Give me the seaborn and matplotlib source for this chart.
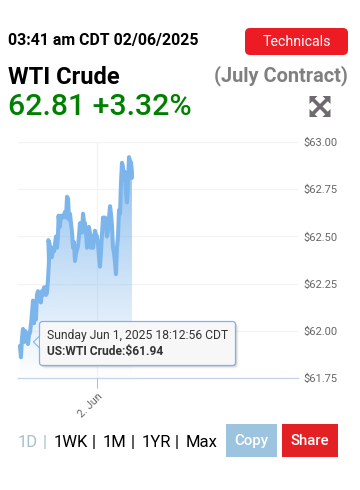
import numpy as np
import pandas as pd
import matplotlib
matplotlib.use("Agg")
import matplotlib.pyplot as plt
from matplotlib.patches import FancyBboxPatch, Rectangle, Polygon
import seaborn as sns

hours = [-6.02,-5.94,-5.86,-5.78,-5.70,-5.63,-5.55,-5.47,-5.39,-5.31,-5.23,-5.12,-5.00,-4.92,-4.84,-4.77,-4.69,-4.61,-4.50,-4.38,-4.30,-4.22,-4.14,-4.06,-3.98,-3.91,-3.83,-3.75,-3.80,-3.70,-3.60,-3.52,-3.44,-3.36,-3.28,-3.20,-3.12,-3.05,-3.00,-2.92,-2.81,-2.66,-2.50,-2.42,-2.34,-2.26,-2.19,-2.11,-2.03,-1.95,-1.87,-1.80,-1.72,-1.64,-1.56,-1.48,-1.41,-1.33,-1.25,-1.17,-1.09,-1.02,-0.94,-0.86,-0.78,-0.70,-0.63,-0.55,-0.47,-0.39,-0.31,-0.23,-0.16,-0.08,0.0,0.08,0.16,0.23,0.31,0.47,0.55,0.63,0.70,0.78,0.86,0.94,1.02,1.09,1.17,1.25,1.33,1.41,1.48,1.56,1.64,1.72,1.80,1.87,1.95,2.03,2.11,2.19,2.27,2.34,2.42,2.50,2.58,2.66,2.73,2.73]
price = [61.92,61.86,61.96,62.01,61.94,62.00,61.95,61.99,61.93,61.98,61.99,62.06,62.16,62.04,62.10,62.06,62.19,62.21,62.16,62.15,62.21,62.19,62.23,62.23,62.19,62.20,62.27,62.37,62.48,62.46,62.41,62.39,62.44,62.42,62.46,62.50,62.44,62.50,62.61,62.55,62.61,62.60,62.63,62.60,62.71,62.70,62.59,62.62,62.57,62.52,62.44,62.47,62.37,62.41,62.43,62.45,62.50,62.57,62.55,62.52,62.62,62.58,62.57,62.52,62.44,62.50,62.55,62.52,62.44,62.50,62.44,62.48,62.53,62.51,62.50,62.46,62.39,62.34,62.42,62.60,62.57,62.60,62.55,62.50,62.53,62.60,62.66,62.62,62.56,62.44,62.41,62.36,62.30,62.44,62.50,62.64,62.62,62.78,62.89,62.87,62.80,62.84,62.74,62.68,62.78,62.92,62.90,62.89,62.84,62.81]

yticks = [61.75, 62.00, 62.25, 62.50, 62.75, 63.00]
ytick_labels = ["$61.75", "$62.00", "$62.25", "$62.50", "$62.75", "$63.00"]
xtick = [0.0]
xtick_labels = ["2. Jun"]
ranges = ["1D", "1WK", "1M", "1YR", "Max"]

W, H = 360, 490
sns.set_theme(style="white")
plt.rcParams["font.family"] = ["Roboto", "DejaVu Sans"]
plt.rcParams["text.color"] = "#000000"

fig = plt.figure(figsize=(W / 100, H / 100), dpi=100, facecolor="white")
L, R, T, B = 18, 298, 142, 378
ax = fig.add_axes([L / W, 1 - B / H, (R - L) / W, (B - T) / H])

df = pd.DataFrame({"hour": hours, "price": price})
ax.set_xlim(-6.17, 15.7)
ax.set_ylim(61.75, 63.0)

# gradient area
poly = ax.fill_between(df["hour"], df["price"], 61.75, color="none", lw=0)
rgba = np.ones((256, 1, 4))
rgba[..., 0] = 124 / 255; rgba[..., 1] = 181 / 255; rgba[..., 2] = 236 / 255
rgba[..., 3] = np.linspace(0.85, 0.0, 256)[:, None]
im = ax.imshow(rgba, extent=(-6.17, 15.7, 61.75, 62.92), origin="upper", aspect="auto", zorder=1.5)
im.set_clip_path(poly.get_paths()[0], transform=ax.transData)
ax.set_xlim(-6.17, 15.7)
ax.set_ylim(61.75, 63.0)

sns.lineplot(data=df, x="hour", y="price", ax=ax, estimator=None, sort=False,
             color="#7cb5ec", lw=2.9, solid_joinstyle="round", zorder=2)

ax.set_xlabel(""); ax.set_ylabel("")
ax.set_xticks(xtick)
ax.set_xticklabels(xtick_labels, rotation=45, ha="right", rotation_mode="anchor", color="#666666", fontsize=7.8)
ax.set_yticks(yticks)
ax.set_yticklabels(ytick_labels, color="#666666", fontsize=8.0)
ax.yaxis.tick_right()
ax.tick_params(axis="y", length=0, pad=4)
ax.tick_params(axis="x", length=7.2, width=0.75, color="#b5bcc8", pad=2.5, bottom=True)
ax.grid(True, color="#f3f3f3", lw=0.9)
ax.set_axisbelow(True)
for s in ["top", "left", "right"]:
    ax.spines[s].set_visible(False)
ax.spines["bottom"].set_color("#c4d2ea")
ax.spines["bottom"].set_linewidth(0.9)

# overlay in pixel coordinates
ov = fig.add_axes([0, 0, 1, 1], zorder=5)
ov.set_xlim(0, W); ov.set_ylim(H, 0); ov.axis("off"); ov.patch.set_alpha(0)

ov.text(8, 40, "03:41 am CDT 02/06/2025", fontsize=11.45, fontweight="bold", va="center", ha="left")
ov.text(8, 77, "WTI Crude", fontsize=17, fontweight="bold", va="center", ha="left")
ov.text(8, 106.5, "62.81 +3.32%", fontsize=21.8, fontweight="medium", color="#008000", va="center", ha="left")
ov.text(347.5, 75.5, "(July Contract)", fontsize=14.4, fontweight="bold", color="#808080", va="center", ha="right")

ov.add_patch(FancyBboxPatch((248, 31), 97, 21, boxstyle="round,pad=3,rounding_size=5", fc="#ed1c24", ec="none"))
ov.text(296.5, 41.5, "Technicals", fontsize=10.2, color="white", va="center", ha="center")

# expand icon
c = "#6e6a70"
cx, cy = 320, 106.5
ov.plot([cx - 7, cx + 7], [cy - 7, cy + 7], color=c, lw=2.6, solid_capstyle="butt")
ov.plot([cx - 7, cx + 7], [cy + 7, cy - 7], color=c, lw=2.6, solid_capstyle="butt")
r = 10.5
for sx, sy in [(-1, -1), (1, -1), (-1, 1), (1, 1)]:
    ov.add_patch(Polygon([(cx + sx * r, cy + sy * r), (cx + sx * (r - 8), cy + sy * r), (cx + sx * r, cy + sy * (r - 8))],
                         closed=True, fc=c, ec="none"))

# tooltip
for off, a in [(3, 0.04), (2, 0.07), (1, 0.10)]:
    ov.add_patch(FancyBboxPatch((41 + off, 323 + off), 193, 41, boxstyle="round,pad=1.5,rounding_size=3", fc="black", ec="none", alpha=a))
ov.add_patch(Polygon([(40.5, 335), (33.5, 342), (40.5, 349)], closed=True, fc="#f7f7f7", ec="#7cb5ec", lw=0.8, zorder=4))
ov.add_patch(FancyBboxPatch((41, 323), 193, 41, boxstyle="round,pad=1.5,rounding_size=3", fc="#f7f7f7", ec="#7cb5ec", lw=0.9, zorder=4))
ov.add_patch(Rectangle((39.6, 336), 2.5, 12, fc="#f7f7f7", ec="none", zorder=5))
ov.text(47, 335.5, "Sunday Jun 1, 2025 18:12:56 CDT", fontsize=8.7, color="#333333", va="center", ha="left", zorder=6)
ov.text(47, 351, "US:WTI Crude:$61.94", fontsize=8.65, fontweight="bold", color="#333333", va="center", ha="left", zorder=6)

# range selector
dark = "black"; pale = "#a9bfcd"
fs = 12
ov.text(18, 442, ranges[0], fontsize=fs, color=pale, va="center", ha="left")
ov.text(43, 442, "|", fontsize=fs, color=pale, va="center", ha="left")
ov.text(54, 442, ranges[1], fontsize=fs, color=dark, va="center", ha="left")
ov.text(92, 442, "|", fontsize=fs, color=dark, va="center", ha="left")
ov.text(103, 442, ranges[2], fontsize=fs, color=dark, va="center", ha="left")
ov.text(130.5, 442, "|", fontsize=fs, color=dark, va="center", ha="left")
ov.text(142, 442, ranges[3], fontsize=fs, color=dark, va="center", ha="left")
ov.text(175, 442, "|", fontsize=fs, color=dark, va="center", ha="left")
ov.text(186, 442, ranges[4], fontsize=fs, color=dark, va="center", ha="left")

ov.add_patch(Rectangle((226, 424), 51, 33, fc="#9cc4de", ec="none"))
ov.text(251.5, 440.5, "Copy", fontsize=10.8, color="white", fontweight="medium", va="center", ha="center")
ov.add_patch(Rectangle((282, 424), 56, 33, fc="#e32024", ec="none"))
ov.text(310, 440.5, "Share", fontsize=10.8, color="white", fontweight="medium", va="center", ha="center")

fig.savefig("out.png", dpi=100, facecolor="white")
